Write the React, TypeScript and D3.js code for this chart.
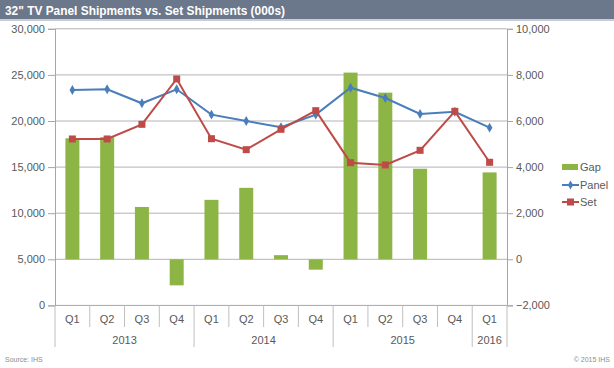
import React, { useEffect, useRef } from 'react';
import * as d3 from 'd3';

const quarters = ['Q1', 'Q2', 'Q3', 'Q4', 'Q1', 'Q2', 'Q3', 'Q4', 'Q1', 'Q2', 'Q3', 'Q4', 'Q1'];
const years = [
  { label: '2013', start: 0, end: 4 },
  { label: '2014', start: 4, end: 8 },
  { label: '2015', start: 8, end: 12 },
  { label: '2016', start: 12, end: 13 },
];
const panel = [23360, 23440, 21920, 23440, 20690, 20000, 19320, 20690, 23610, 22490, 20760, 21000, 19280];
const set = [18050, 18050, 19640, 24560, 18080, 16890, 19100, 21120, 15480, 15230, 16820, 21050, 15520];
const gap = [5250, 5300, 2270, -1130, 2580, 3100, 180, -450, 8100, 7230, 3930, 0, 3770];
const leftTicks = [0, 5000, 10000, 15000, 20000, 25000, 30000];
const rightTicks = [-2000, 0, 2000, 4000, 6000, 8000, 10000];

const App = () => {
  const ref = useRef<SVGSVGElement>(null);

  useEffect(() => {
    const svg = d3.select(ref.current);
    svg.selectAll('*').remove();

    const width = 614;
    const height = 368;
    const left = 55;
    const right = 507;
    const top = 28.8;
    const bottom = 305.4;
    const font = 'Liberation Sans, Arial, sans-serif';
    const grey = '#595959';

    const idx = quarters.map((_, i) => i);
    const x = d3.scaleBand<number>().domain(idx).range([left, right]).paddingInner(0).paddingOuter(0);
    const cx = (i: number) => (x(i) as number) + x.bandwidth() / 2;
    const yL = d3.scaleLinear().domain([0, 30000]).range([bottom, top]);
    const yR = d3.scaleLinear().domain([-2000, 10000]).range([bottom, top]);

    svg.append('rect').attr('width', width).attr('height', height).attr('fill', '#ffffff');

    // title bar
    svg.append('rect').attr('x', 0).attr('y', 0).attr('width', width).attr('height', 19).attr('fill', '#6b778a');
    svg.append('rect').attr('x', 0).attr('y', 19).attr('width', width).attr('height', 2).attr('fill', '#c9ced6');
    svg.append('text')
      .attr('x', 5).attr('y', 14.5)
      .attr('fill', '#ffffff')
      .attr('font-family', font)
      .attr('font-weight', 'bold')
      .attr('font-size', 13.5)
      .attr('textLength', 280)
      .attr('lengthAdjust', 'spacingAndGlyphs')
      .text('32" TV Panel Shipments vs. Set Shipments (000s)');

    // gridlines
    svg.append('g')
      .selectAll('line')
      .data(leftTicks.filter(d => d > 0))
      .join('line')
        .attr('x1', left).attr('x2', right)
        .attr('y1', d => yL(d)).attr('y2', d => yL(d))
        .attr('stroke', '#b3b3b3').attr('stroke-width', 1);

    // left axis
    const axL = svg.append('g')
      .attr('transform', `translate(${left},0)`)
      .call(d3.axisLeft(yL).tickValues(leftTicks).tickSize(7).tickPadding(3).tickFormat(d3.format(',')));
    axL.select('.domain').attr('stroke', '#a6a6a6');
    axL.selectAll('.tick line').attr('stroke', '#a6a6a6');
    axL.selectAll('text').attr('fill', grey).attr('font-size', 11).attr('font-family', font);

    // right axis
    const axR = svg.append('g')
      .attr('transform', `translate(${right},0)`)
      .call(d3.axisRight(yR).tickValues(rightTicks).tickSize(6).tickPadding(3).tickFormat(d3.format(',')));
    axR.select('.domain').attr('stroke', '#a6a6a6');
    axR.selectAll('.tick line').attr('stroke', '#a6a6a6');
    axR.selectAll('text').attr('fill', grey).attr('font-size', 11).attr('font-family', font);

    // bottom line and category axis
    svg.append('line')
      .attr('x1', left).attr('x2', right).attr('y1', bottom).attr('y2', bottom)
      .attr('stroke', '#a6a6a6');

    const yearEdges = new Set(years.map(d => d.start).concat([quarters.length]));
    svg.append('g')
      .selectAll('line')
      .data(d3.range(quarters.length + 1))
      .join('line')
        .attr('x1', d => left + d * x.bandwidth())
        .attr('x2', d => left + d * x.bandwidth())
        .attr('y1', bottom)
        .attr('y2', d => (yearEdges.has(d) ? 347 : 327))
        .attr('stroke', '#bfbfbf');

    svg.append('g')
      .selectAll('text')
      .data(quarters)
      .join('text')
        .attr('x', (_, i) => cx(i))
        .attr('y', 323)
        .attr('text-anchor', 'middle')
        .attr('fill', grey)
        .attr('font-size', 11)
        .attr('font-family', font)
        .text(d => d);

    svg.append('g')
      .selectAll('text')
      .data(years)
      .join('text')
        .attr('x', d => left + ((d.start + d.end) / 2) * x.bandwidth())
        .attr('y', 344)
        .attr('text-anchor', 'middle')
        .attr('fill', grey)
        .attr('font-size', 11)
        .attr('font-family', font)
        .text(d => d.label);

    // gap bars
    const bw = 14;
    svg.append('g')
      .selectAll('rect')
      .data(gap)
      .join('rect')
        .attr('x', (_, i) => cx(i) - bw / 2)
        .attr('y', d => yR(Math.max(0, d)))
        .attr('width', bw)
        .attr('height', d => Math.abs(yR(d) - yR(0)))
        .attr('fill', '#8db546');

    const line = d3.line<number>().x((_, i) => cx(i)).y(d => yL(d));

    // panel
    svg.append('path')
      .datum(panel)
      .attr('d', line)
      .attr('fill', 'none')
      .attr('stroke', '#4a7ebb')
      .attr('stroke-width', 2);
    svg.append('g')
      .selectAll('path')
      .data(panel)
      .join('path')
        .attr('d', d3.symbol(d3.symbolDiamond, 28))
        .attr('transform', (d, i) => `translate(${cx(i)},${yL(d)})`)
        .attr('fill', '#4a7ebb');

    // set
    svg.append('path')
      .datum(set)
      .attr('d', line)
      .attr('fill', 'none')
      .attr('stroke', '#be4b48')
      .attr('stroke-width', 2);
    svg.append('g')
      .selectAll('rect')
      .data(set)
      .join('rect')
        .attr('x', (_, i) => cx(i) - 3.5)
        .attr('y', d => yL(d) - 3.5)
        .attr('width', 7)
        .attr('height', 7)
        .attr('fill', '#be4b48');

    // legend
    const lg = svg.append('g').attr('font-family', font).attr('font-size', 11).attr('fill', grey);
    lg.append('rect').attr('x', 562).attr('y', 164).attr('width', 16).attr('height', 6).attr('fill', '#8db546');
    lg.append('text').attr('x', 580).attr('y', 171).text('Gap');
    lg.append('line').attr('x1', 562).attr('x2', 579).attr('y1', 185).attr('y2', 185).attr('stroke', '#4a7ebb').attr('stroke-width', 2);
    lg.append('path').attr('d', d3.symbol(d3.symbolDiamond, 24)).attr('transform', 'translate(570.5,185)').attr('fill', '#4a7ebb');
    lg.append('text').attr('x', 580).attr('y', 189).text('Panel');
    lg.append('line').attr('x1', 562).attr('x2', 579).attr('y1', 202).attr('y2', 202).attr('stroke', '#be4b48').attr('stroke-width', 2);
    lg.append('rect').attr('x', 567).attr('y', 198.5).attr('width', 7).attr('height', 7).attr('fill', '#be4b48');
    lg.append('text').attr('x', 580).attr('y', 206).text('Set');

    // footer
    svg.append('text')
      .attr('x', 5).attr('y', 362)
      .attr('fill', '#8c8c8c')
      .attr('font-family', font)
      .attr('font-size', 7)
      .text('Source: IHS');
    svg.append('text')
      .attr('x', 610).attr('y', 362)
      .attr('text-anchor', 'end')
      .attr('fill', '#8c8c8c')
      .attr('font-family', font)
      .attr('font-size', 7)
      .text('© 2015 IHS');
  }, []);

  return (
    <svg
      ref={ref}
      width="614"
      height="368"
      style={{ position: 'absolute', left: 0, top: 0, display: 'block' }}
    ></svg>
  );
};

export default App;
